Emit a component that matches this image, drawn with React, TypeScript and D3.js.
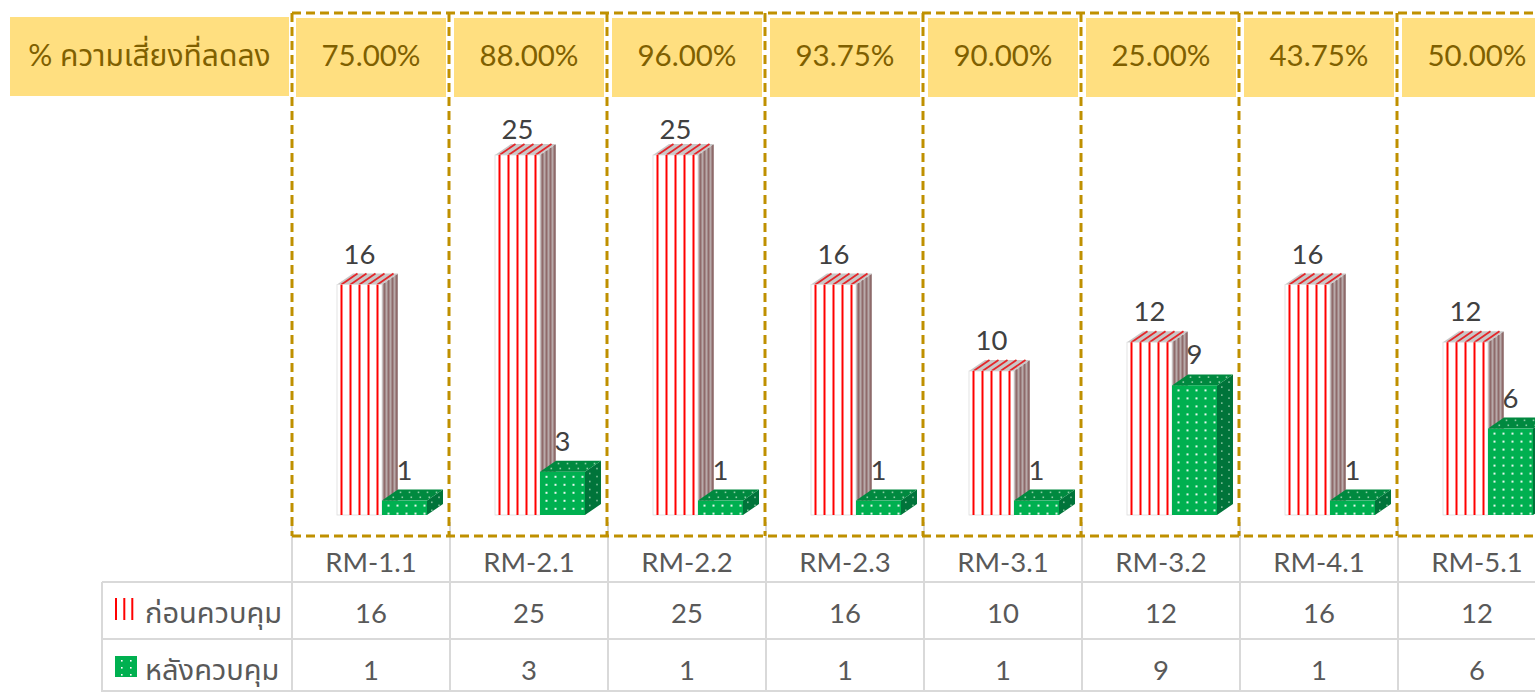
import React from "react";
import * as d3 from "d3";

const categories = ["RM-1.1", "RM-2.1", "RM-2.2", "RM-2.3", "RM-3.1", "RM-3.2", "RM-4.1", "RM-5.1"];
const beforeValues = [16, 25, 25, 16, 10, 12, 16, 12];
const afterValues = [1, 3, 1, 1, 1, 9, 1, 6];
const reductionPct = ["75.00%", "88.00%", "96.00%", "93.75%", "90.00%", "25.00%", "43.75%", "50.00%"];
const seriesNames = ["ก่อนควบคุม", "หลังควบคุม"];
const headerLabel = "% ความเสี่ยงที่ลดลง";

const W = 1535;
const H = 692;
const FONT = "Lato, 'Noto Sans Thai', 'Noto Sans', 'DejaVu Sans', sans-serif";
const DX = 16;
const DY = 11;

const x = d3.scaleBand<string>().domain(categories).range([292, 292 + 158 * categories.length]).padding(0);
const inner = d3.scaleBand<string>().domain(["before", "after"]).range([45, 135]).padding(0);
const y = d3.scaleLinear().domain([0, 25]).range([515, 155]);

const pts = (a: number[][]) => a.map((p) => p.join(",")).join(" ");

function RedBar({ l, w, top, bottom }: { l: number; w: number; top: number; bottom: number }) {
  const r = l + w;
  const stripes = d3.range(l + 4.5, r, 9);
  const sideStripes = [2.5, 6.5, 10.5, 14.5];
  return (
    <g>
      <polygon points={pts([[r, top], [r + DX, top - DY], [r + DX, bottom - DY], [r, bottom]])} fill="#b8aaaa" />
      {sideStripes.map((s, i) => (
        <line key={i} x1={r + s} x2={r + s} y1={top - (DY * s) / DX} y2={bottom - (DY * s) / DX} stroke="#8f6a6a" strokeWidth={2} />
      ))}
      <polygon points={pts([[l, top], [r, top], [r + DX, top - DY], [l + DX, top - DY]])} fill="#c8c8c8" />
      {stripes.map((sx, i) => (
        <line key={i} x1={sx} y1={top} x2={Math.min(sx + DX, r + DX)} y2={top - DY} stroke="#e4262a" strokeWidth={1.8} />
      ))}
      <rect x={l} y={top} width={w} height={bottom - top} fill="#ffffff" stroke="#dcdcdc" strokeWidth={0.8} />
      {stripes.map((sx, i) => (
        <line key={i} x1={sx} x2={sx} y1={top} y2={bottom} stroke="#ff0000" strokeWidth={2} />
      ))}
    </g>
  );
}

function GreenBar({ l, w, top, bottom }: { l: number; w: number; top: number; bottom: number }) {
  const r = l + w;
  const cols = d3.range(l + 6.5, r, 9);
  const rows = d3.range(top + 5, bottom, 8);
  return (
    <g>
      <polygon points={pts([[r, top], [r + DX, top - DY], [r + DX, bottom - DY], [r, bottom]])} fill="#00743a" />
      {rows.map((ry, j) =>
        [0.3, 0.75].map((f, k) => (
          <rect key={j + "-" + k} x={r + DX * f - 0.8} y={ry - DY * f - 0.8} width={1.6} height={1.6} fill="#7fbf99" />
        ))
      )}
      <polygon points={pts([[l, top], [r, top], [r + DX, top - DY], [l + DX, top - DY]])} fill="#00893f" />
      {cols.map((cx, j) =>
        [0.3, 0.75].map((f, k) => (
          <rect key={j + "-" + k} x={cx + DX * f - 0.8} y={top - DY * f - 0.8} width={1.6} height={1.6} fill="#8fcfa8" />
        ))
      )}
      <rect x={l} y={top} width={w} height={bottom - top} fill="#00b050" />
      {rows.map((ry, j) =>
        cols.map((cx, k) => <rect key={j + "-" + k} x={cx - 1} y={ry - 1} width={2} height={2} fill="#ffffff" opacity={0.9} />)
      )}
    </g>
  );
}

export default function App() {
  const bw = x.bandwidth();
  const boundaries = [...categories.map((c) => x(c) as number), (x(categories[categories.length - 1]) as number) + bw];
  const base = y(0);
  const labelMin = y.range()[1] - 16;
  const gold = "#bf9000";
  const grid = "#d9d9d9";
  const tableText = "#595959";

  const dashPath =
    `M${boundaries[0]},13H${W + 20}M${boundaries[0]},536H${W + 20}` +
    boundaries.map((b, i) => `M${i === 0 ? b : b - 1},13V536`).join("");

  return (
    <svg
      width={W}
      height={H}
      style={{ position: "absolute", left: 0, top: 0, display: "block", background: "#ffffff" }}
      fontFamily={FONT}
    >
      {/* header */}
      <rect x={10} y={17} width={279} height={79} fill="#ffdf80" />
      <text x={149.5} y={66} textAnchor="middle" fontSize={30} fill="#7f6000">
        {headerLabel}
      </text>
      {categories.map((c, i) => (
        <g key={c}>
          <rect x={(x(c) as number) + 4} y={18} width={bw - 8} height={79} fill="#ffdf80" />
          <text x={(x(c) as number) + bw / 2} y={66} textAnchor="middle" fontSize={29.5} fill="#7f6000">
            {reductionPct[i]}
          </text>
        </g>
      ))}

      {/* table grid */}
      {boundaries.map((b, i) => (
        <line key={i} x1={b} x2={b} y1={522} y2={H} stroke={grid} strokeWidth={2} />
      ))}
      <line x1={102} x2={W} y1={582} y2={582} stroke={grid} strokeWidth={2} />
      <line x1={102} x2={W} y1={639} y2={639} stroke={grid} strokeWidth={2} />
      <line x1={102} x2={W} y1={H - 1} y2={H - 1} stroke={grid} strokeWidth={2} />
      <line x1={102} x2={102} y1={582} y2={H} stroke={grid} strokeWidth={2} />

      {/* bars */}
      {categories.map((c, i) => {
        const x0 = x(c) as number;
        const lr = x0 + (inner("before") as number);
        const lg = x0 + (inner("after") as number);
        const w = inner.bandwidth();
        const tr = y(beforeValues[i]);
        const tg = y(afterValues[i]);
        return (
          <g key={c}>
            <RedBar l={lr} w={w} top={tr} bottom={base} />
            <GreenBar l={lg} w={w} top={tg} bottom={base} />
            <text x={lr + w / 2} y={Math.max(tr - DY - 10, labelMin)} textAnchor="middle" fontSize={27.5} fill="#404040">
              {beforeValues[i]}
            </text>
            <text x={lg + w / 2} y={Math.max(tg - DY - 10, labelMin)} textAnchor="middle" fontSize={27.5} fill="#404040">
              {afterValues[i]}
            </text>
          </g>
        );
      })}

      {/* dashed frames */}
      <path d={dashPath} fill="none" stroke={gold} strokeWidth={3} strokeDasharray="9 5" />

      {/* table content */}
      {categories.map((c, i) => {
        const cx = (x(c) as number) + bw / 2;
        return (
          <g key={c} fontSize={27.5} fill={tableText} textAnchor="middle">
            <text x={cx} y={572}>{c}</text>
            <text x={cx} y={623}>{beforeValues[i]}</text>
            <text x={cx} y={680}>{afterValues[i]}</text>
          </g>
        );
      })}

      {/* legend keys */}
      <g>
        <rect x={114} y={598} width={20} height={22} fill="#ffffff" />
        {[116, 124.3, 132.3].map((lx, i) => (
          <line key={i} x1={lx} x2={lx} y1={598} y2={620} stroke="#ff0000" strokeWidth={2} />
        ))}
        <rect x={115} y={656} width={22} height={21} fill="#00b050" />
        {[121, 130].map((dx, i) =>
          [660, 667, 674].map((dy, j) => <rect key={i + "-" + j} x={dx} y={dy} width={1.6} height={1.6} fill="#ffffff" />)
        )}
        <text x={145} y={623} fontSize={29} fill={tableText}>{seriesNames[0]}</text>
        <text x={145} y={680} fontSize={29} fill={tableText}>{seriesNames[1]}</text>
      </g>
    </svg>
  );
}
